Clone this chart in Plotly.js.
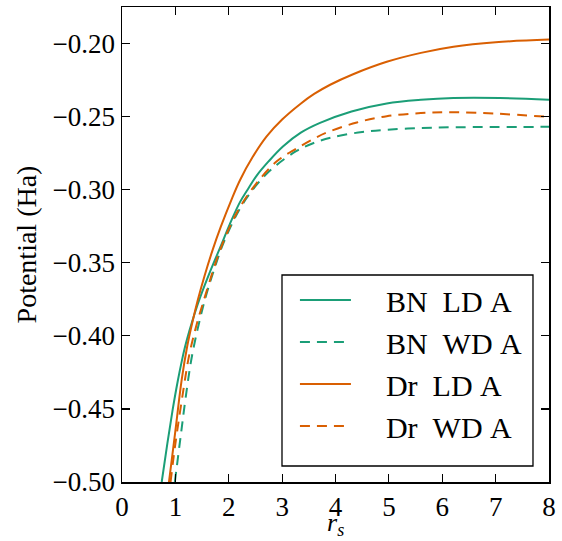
<!DOCTYPE html>
<html>
<head>
<meta charset="utf-8">
<script src="https://cdn.plot.ly/plotly-3.0.1.min.js"></script>
<style>html,body{margin:0;padding:0;background:#fff}#chart{width:562px;height:541px}</style>
</head>
<body>
<div id="chart"></div>
<script>
// Data
const bnLdaX = [0.744, 0.85, 0.95, 1.043, 1.12, 1.18, 1.26, 1.36, 1.46, 1.65, 1.84, 2.02, 2.21, 2.37, 2.52, 2.75, 3.02, 3.35, 3.71, 4.3, 4.96, 5.6, 6.21, 7.08, 8.0];
const bnLdaY = [-0.500, -0.4735, -0.4503, -0.4312, -0.4173, -0.4077, -0.3969, -0.3849, -0.3741, -0.3561, -0.3395, -0.3235, -0.3085, -0.2990, -0.2905, -0.2805, -0.2703, -0.2610, -0.2543, -0.2465, -0.2410, -0.2385, -0.2373, -0.2373, -0.2384];

const bnWdaX = [0.99, 1.105, 1.19, 1.32, 1.555, 1.75, 1.90, 2.2, 2.46, 2.7, 2.9, 3.27, 3.58, 3.96, 4.5, 4.96, 5.6, 6.21, 7.0, 8.0];
const bnWdaY = [-0.500, -0.467, -0.443, -0.412, -0.375, -0.352, -0.3365, -0.3135, -0.2995, -0.2895, -0.2830, -0.2735, -0.2682, -0.2640, -0.2605, -0.2590, -0.2578, -0.2573, -0.2571, -0.2570];

const drLdaX = [0.88, 1.0, 1.118, 1.22, 1.32, 1.42, 1.55, 1.70, 1.85, 2.05, 2.21, 2.45, 2.71, 3.0, 3.335, 3.6, 3.9, 4.33, 4.96, 5.6, 6.21, 7.0, 8.0];
const drLdaY = [-0.500, -0.465, -0.4302, -0.4075, -0.3905, -0.3755, -0.3585, -0.3410, -0.3255, -0.3069, -0.2935, -0.2775, -0.2635, -0.2520, -0.2415, -0.2345, -0.2282, -0.2210, -0.2125, -0.2064, -0.2022, -0.1991, -0.1973];

const drWdaX = [0.91, 0.993, 1.15, 1.26, 1.40, 1.555, 1.70, 1.84, 2.0, 2.2, 2.5, 2.9, 3.27, 3.6, 3.83, 4.4, 4.96, 5.6, 6.21, 7.02, 8.0];
const drWdaY = [-0.500, -0.4757, -0.437, -0.413, -0.392, -0.373, -0.356, -0.341, -0.327, -0.3125, -0.2965, -0.2806, -0.2718, -0.2650, -0.2610, -0.2540, -0.2497, -0.2476, -0.2470, -0.2480, -0.2502];

const pad = '\u00a0\u00a0\u00a0\u00a0';
const seriesNames = ['BN\u00a0\u00a0LD\u00a0A', 'BN\u00a0\u00a0WD\u00a0A', 'Dr\u00a0\u00a0LD\u00a0A', 'Dr\u00a0\u00a0WD\u00a0A'];
const xTicks = [0, 1, 2, 3, 4, 5, 6, 7, 8];
const yTicks = [-0.50, -0.45, -0.40, -0.35, -0.30, -0.25, -0.20];
const xTitle = '<i>r</i><sub><i>s</i></sub>';

const green = '#1b9e77';
const orange = '#d95f02';
const dashStyle = '10px,7px';

function tr(x, y, name, color, dash, g) {
  return {
    x: x, y: y, name: pad + name, type: 'scatter', mode: 'lines',
    legendgroup: g,
    line: {color: color, width: 2, dash: dash, shape: 'spline', smoothing: 1.0}
  };
}

const data = [
  tr(bnLdaX, bnLdaY, seriesNames[0], green, 'solid', 'a'),
  tr(bnWdaX, bnWdaY, seriesNames[1], green, dashStyle, 'b'),
  tr(drLdaX, drLdaY, seriesNames[2], orange, 'solid', 'c'),
  tr(drWdaX, drWdaY, seriesNames[3], orange, dashStyle, 'd')
];

const font = "Liberation Serif";

const layout = {
  width: 562, height: 541,
  margin: {l: 122, r: 13, t: 7, b: 59},
  paper_bgcolor: '#fff', plot_bgcolor: '#fff',
  font: {family: font, color: '#000', size: 27},
  showlegend: true,
  legend: {
    x: 0.405, y: 0.4379, xanchor: 'left', yanchor: 'top',
    bgcolor: 'rgba(0,0,0,0)', borderwidth: 0,
    font: {family: font, size: 30, color: '#000'},
    tracegroupgap: 10.5,
    traceorder: 'normal',
    itemwidth: 51
  },
  shapes: [{
    type: 'rect', xref: 'paper', yref: 'paper',
    x0: 0.3747, x1: 0.9625, y0: 0.0337, y1: 0.4358,
    line: {color: '#000', width: 1.3}, fillcolor: '#fff', layer: 'above'
  }],
  annotations: [{
    text: xTitle, xref: 'paper', yref: 'paper', x: 0.5, y: -0.089,
    xanchor: 'center', yanchor: 'middle', showarrow: false,
    font: {family: font, size: 26, color: '#000'}
  }],
  xaxis: {
    range: [0, 8], tickvals: xTicks, ticktext: xTicks.map(String),
    ticks: 'inside', ticklen: 8, tickwidth: 1.2, tickcolor: '#000',
    showline: true, linecolor: '#000', linewidth: 1.5, mirror: 'ticks',
    showgrid: false, zeroline: false, automargin: false,
    tickfont: {family: font, size: 27, color: '#000'}
  },
  yaxis: {
    range: [-0.50, -0.175], tickvals: yTicks, ticktext: yTicks.map(v => '\u2212' + Math.abs(v).toFixed(2)),
    ticks: 'inside', ticklen: 8, tickwidth: 1.2, tickcolor: '#000',
    showline: true, linecolor: '#000', linewidth: 1.5, mirror: 'ticks',
    showgrid: false, zeroline: false, automargin: false,
    tickfont: {family: font, size: 27, color: '#000'},
    title: {text: 'Potential (Ha)', font: {family: font, size: 28, color: '#000'}, standoff: 8}
  }
};

Plotly.newPlot('chart', data, layout, {displayModeBar: false, staticPlot: true});
</script>
</body>
</html>
